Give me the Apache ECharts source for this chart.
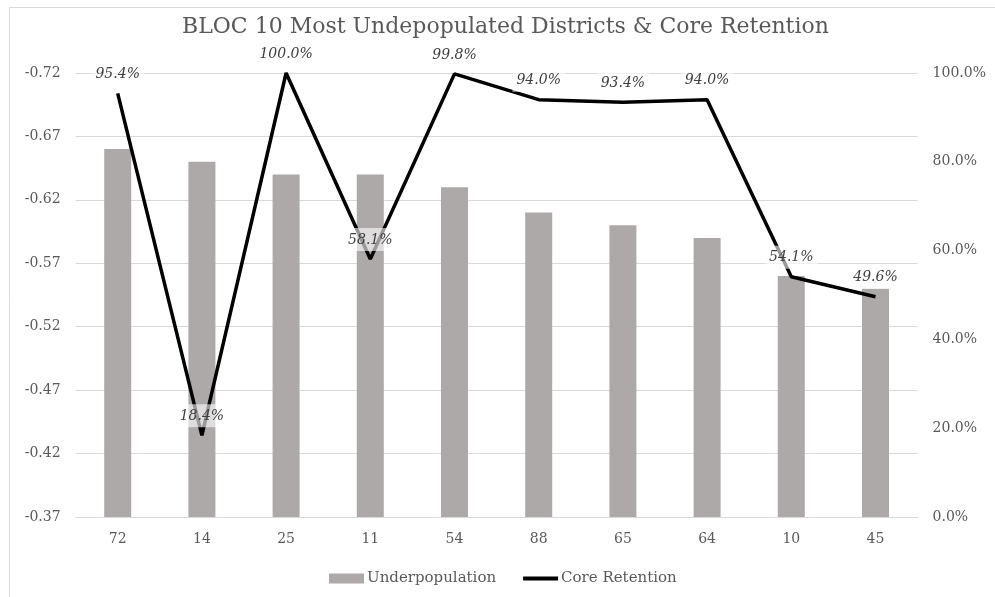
<!DOCTYPE html>
<html>
<head>
<meta charset="utf-8">
<script src="https://cdn.jsdelivr.net/npm/echarts@6/dist/echarts.min.js"></script>
<style>html,body{margin:0;padding:0;background:#fff;}#c{width:995px;height:597px;}</style>
</head>
<body>
<div id="c"></div>
<script>
const titleText = 'BLOC 10 Most Undepopulated Districts & Core Retention';
const districts = ['72', '14', '25', '11', '54', '88', '65', '64', '10', '45'];
const underpopulation = [-0.66, -0.65, -0.64, -0.64, -0.63, -0.61, -0.60, -0.59, -0.56, -0.55];
const coreRetention = [95.4, 18.4, 100.0, 58.1, 99.8, 94.0, 93.4, 94.0, 54.1, 49.6];
const leftTicks = [-0.72, -0.67, -0.62, -0.57, -0.52, -0.47, -0.42, -0.37];

const FONT = 'DejaVu Serif';
const TXT = '#595959';
const chart = echarts.init(document.getElementById('c'), null, {renderer: 'canvas'});
chart.setOption({
  backgroundColor: '#fff',
  animation: false,
  textStyle: {fontFamily: FONT},
  graphic: [{
    type: 'rect', shape: {x: 9.5, y: 7.5, width: 1200, height: 1200},
    style: {fill: 'none', stroke: '#D9D9D9', lineWidth: 1}, silent: true, z: -10
  }],
  title: {
    text: titleText, left: 177, top: 11,
    textStyle: {fontFamily: FONT, fontSize: 22, fontWeight: 'normal', color: TXT}
  },
  legend: {
    top: 566, left: 324, itemGap: 27,
    itemWidth: 35, itemHeight: 10,
    textStyle: {fontFamily: FONT, fontSize: 15, color: TXT, padding: [0, 0, 0, -2]},
    data: [
      {name: 'Underpopulation', icon: 'rect'},
      {name: 'Core Retention', icon: 'path://M0,0H35V4H0Z', itemStyle: {color: '#000'}}
    ]
  },
  grid: {left: 75.6, right: 77.4, top: 73, bottom: 80},
  xAxis: {
    type: 'category', data: districts,
    axisLine: {lineStyle: {color: '#D9D9D9', width: 1}},
    axisTick: {show: false},
    axisLabel: {color: TXT, fontFamily: FONT, fontSize: 14, margin: 15}
  },
  yAxis: [{
    type: 'value', inverse: true, min: -0.72, max: -0.37,
    axisLine: {show: false}, axisTick: {show: false, customValues: leftTicks},
    splitLine: {lineStyle: {color: '#D9D9D9', width: 1}},
    axisLabel: {color: TXT, fontFamily: FONT, fontSize: 14, margin: 15, customValues: leftTicks,
      formatter: v => v.toFixed(2)}
  }, {
    type: 'value', min: 0, max: 100, interval: 20,
    axisLine: {show: false}, axisTick: {show: false}, splitLine: {show: false},
    axisLabel: {color: TXT, fontFamily: FONT, fontSize: 14, margin: 15,
      formatter: v => v.toFixed(1) + '%'}
  }],
  series: [{
    name: 'Underpopulation', type: 'bar', yAxisIndex: 0, data: underpopulation,
    barWidth: 27, itemStyle: {color: '#ADA9A8'}, z: 2
  }, {
    name: 'Core Retention', type: 'line', yAxisIndex: 1, data: coreRetention,
    symbol: 'circle', symbolSize: 0, showSymbol: true,
    lineStyle: {color: '#000', width: 3.5}, itemStyle: {color: '#000'}, z: 3,
    labelLayout: {hideOverlap: false},
    label: {
      show: true, position: 'top', distance: 8,
      formatter: p => p.value.toFixed(1) + '%',
      fontFamily: FONT, fontStyle: 'italic', fontSize: 14, color: '#404040',
      backgroundColor: 'rgba(255,255,255,0.6)', padding: [5, 4, 4, 4]
    }
  }]
});
</script>
</body>
</html>
